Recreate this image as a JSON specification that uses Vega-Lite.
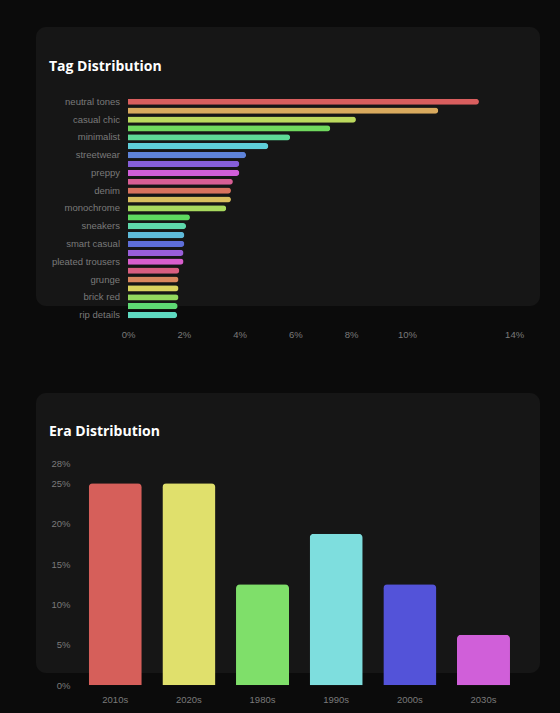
{
  "$schema": "https://vega.github.io/schema/vega-lite/v6.json",
  "background": "#0b0b0b",
  "padding": {"left": 36, "top": 27, "right": 20, "bottom": 9},
  "bounds": "flush",
  "spacing": 87,
  "resolve": {"scale": {"color": "independent"}},
  "config": {
    "view": {"fill": "#161616", "stroke": null, "cornerRadius": 10},
    "axis": {
      "labelFont": "Liberation Sans",
      "labelColor": "#7a7a7a",
      "labelFontSize": 9.5,
      "domain": false,
      "ticks": false,
      "tickSize": 0,
      "grid": false,
      "title": null,
      "labelFlush": false
    },
    "title": {
      "font": "Open Sans",
      "fontSize": 14,
      "fontWeight": "bold",
      "color": "#ffffff",
      "anchor": "start",
      "frame": "group",
      "baseline": "alphabetic"
    }
  },
  "vconcat": [
    {
      "width": 504,
      "height": 279,
      "title": {"text": "Tag Distribution", "offset": -47, "dx": 13},
      "data": {
        "values": [
          {"tag": "neutral tones", "pct": 12.58},
          {"tag": "oversized", "pct": 11.12},
          {"tag": "casual chic", "pct": 8.17},
          {"tag": "vintage", "pct": 7.25},
          {"tag": "minimalist", "pct": 5.81},
          {"tag": "earth tones", "pct": 5.03},
          {"tag": "streetwear", "pct": 4.23},
          {"tag": "layering", "pct": 3.99},
          {"tag": "preppy", "pct": 3.99},
          {"tag": "tailored", "pct": 3.76},
          {"tag": "denim", "pct": 3.69},
          {"tag": "loafers", "pct": 3.69},
          {"tag": "monochrome", "pct": 3.52},
          {"tag": "wide-leg", "pct": 2.22},
          {"tag": "sneakers", "pct": 2.08},
          {"tag": "knitwear", "pct": 2.02},
          {"tag": "smart casual", "pct": 2.02},
          {"tag": "cargo pants", "pct": 1.99},
          {"tag": "pleated trousers", "pct": 1.99},
          {"tag": "leather jacket", "pct": 1.84},
          {"tag": "grunge", "pct": 1.81},
          {"tag": "sweater vest", "pct": 1.81},
          {"tag": "brick red", "pct": 1.81},
          {"tag": "ripped jeans", "pct": 1.78},
          {"tag": "rip details", "pct": 1.76}
        ]
      },
      "mark": {"type": "bar", "cornerRadiusEnd": 3},
      "encoding": {
        "y": {
          "field": "tag",
          "type": "nominal",
          "sort": null,
          "scale": {"range": [70.3, 292.5], "paddingInner": 0.3, "paddingOuter": 0.15},
          "axis": {
            "offset": -92,
            "labelPadding": 8.5,
            "labelExpr": "indexof(['oversized','vintage','earth tones','layering','tailored','loafers','wide-leg','knitwear','cargo pants','leather jacket','sweater vest','ripped jeans'], datum.value) >= 0 ? '' : datum.label"
          }
        },
        "x": {
          "field": "pct",
          "type": "quantitative",
          "scale": {"domain": [0, 13.84], "range": [92, 478.1], "nice": false, "zero": true},
          "axis": {
            "values": [0, 2, 4, 6, 8, 10, 13.84],
            "labelExpr": "format(datum.value, '.0f') + '%'",
            "offset": 23,
            "labelPadding": 0,
            "labelBaseline": "top"
          }
        },
        "color": {
          "field": "tag",
          "type": "nominal",
          "sort": null,
          "legend": null,
          "scale": {
            "range": [
              "hsl(0,62%,61%)", "hsl(37,62%,61%)", "hsl(74,62%,61%)", "hsl(111,62%,61%)", "hsl(148,62%,61%)",
              "hsl(185,62%,61%)", "hsl(222,62%,61%)", "hsl(259,62%,61%)", "hsl(296,62%,61%)", "hsl(333,62%,61%)",
              "hsl(10,62%,61%)", "hsl(47,62%,61%)", "hsl(84,62%,61%)", "hsl(121,62%,61%)", "hsl(158,62%,61%)",
              "hsl(195,62%,61%)", "hsl(232,62%,61%)", "hsl(269,62%,61%)", "hsl(306,62%,61%)", "hsl(343,62%,61%)",
              "hsl(20,62%,61%)", "hsl(57,62%,61%)", "hsl(94,62%,61%)", "hsl(131,62%,61%)", "hsl(168,62%,61%)"
            ]
          }
        }
      }
    },
    {
      "width": 504,
      "height": 280,
      "title": {"text": "Era Distribution", "offset": -46, "dx": 13},
      "data": {
        "values": [
          {"era": "2010s", "pct": 25},
          {"era": "2020s", "pct": 25},
          {"era": "1980s", "pct": 12.5},
          {"era": "1990s", "pct": 18.75},
          {"era": "2000s", "pct": 12.5},
          {"era": "2030s", "pct": 6.25}
        ]
      },
      "mark": {"type": "bar", "cornerRadiusTopLeft": 4, "cornerRadiusTopRight": 4},
      "encoding": {
        "x": {
          "field": "era",
          "type": "nominal",
          "sort": null,
          "scale": {"range": [42.4, 484.3], "paddingInner": 0.28, "paddingOuter": 0.14},
          "axis": {"labelAngle": 0, "offset": 21, "labelPadding": 0, "labelBaseline": "top"}
        },
        "y": {
          "field": "pct",
          "type": "quantitative",
          "scale": {"domain": [0, 27.5], "range": [292.3, 70.1], "nice": false, "zero": true},
          "axis": {
            "values": [0, 5, 10, 15, 20, 25, 27.5],
            "labelExpr": "format(datum.value, '.0f') + '%'",
            "offset": -37,
            "labelPadding": 3
          }
        },
        "color": {
          "field": "era",
          "type": "nominal",
          "sort": null,
          "legend": null,
          "scale": {"range": ["#d65f5a", "#e0e06c", "#7fdf6a", "#7edede", "#5353d9", "#d05fd9"]}
        }
      }
    }
  ]
}
